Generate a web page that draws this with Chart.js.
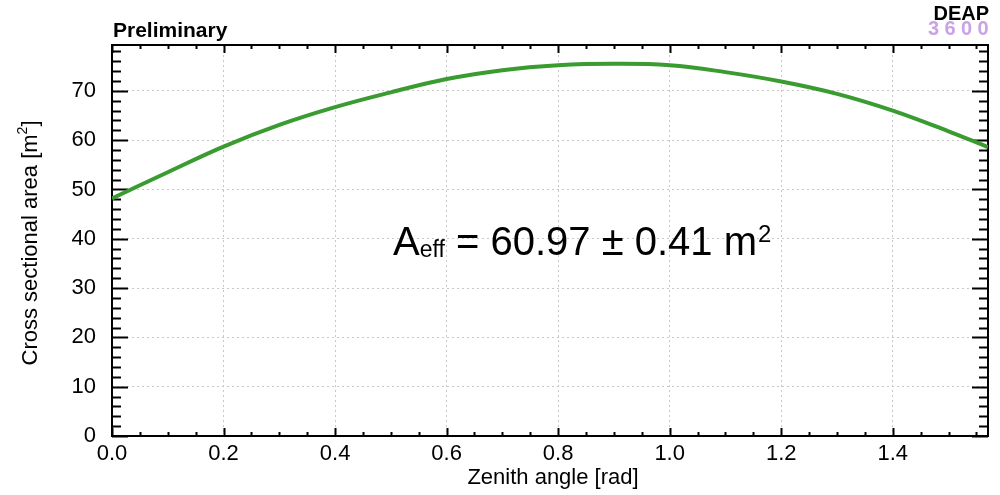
<!DOCTYPE html>
<html>
<head>
<meta charset="utf-8">
<script src="https://cdn.jsdelivr.net/npm/chart.js@4"></script>
<style>
  body { margin: 0; background: #fff; }
  canvas { display: block; }
</style>
</head>
<body>
<canvas id="myChart" width="1000" height="495"></canvas>
<script>
// zenith angle (rad) vs cross sectional area (m^2)
var angles = [0, 0.1, 0.2, 0.3, 0.4, 0.5, 0.6, 0.7, 0.8, 0.9, 1.0, 1.1, 1.2, 1.3, 1.4, 1.5, 1.5708];
var areas = [48.2, 53.5, 58.7, 63.1, 66.7, 69.7, 72.4, 74.2, 75.2, 75.5, 75.2, 73.8, 71.9, 69.4, 66.0, 61.8, 58.6];
var xTicks = [0, 0.2, 0.4, 0.6, 0.8, 1.0, 1.2, 1.4];
var yTicks = [0, 10, 20, 30, 40, 50, 60, 70];

var FONT = '"Liberation Sans", Arial, sans-serif';
var X_MAX = Math.PI / 2;
var Y_MAX = 79.3;

var points = angles.map(function (a, i) { return { x: a, y: areas[i] }; });

// ROOT style frame with inward ticks, titles and the labels on top
var frame = {
    id: 'frame',
    beforeDatasetsDraw: function (chart) {
        var ctx = chart.ctx, area = chart.chartArea;
        var xs = chart.scales.x, ys = chart.scales.y;
        ctx.save();
        ctx.strokeStyle = '#000';
        ctx.lineWidth = 2;
        ctx.strokeRect(area.left, area.top, area.right - area.left, area.bottom - area.top);
        ctx.beginPath();
        for (var v = 0; v <= Y_MAX; v += 2) {
            var py = Math.round(ys.getPixelForValue(v)) + 0.5;
            var len = (v % 10 === 0) ? 16 : 9;
            ctx.moveTo(area.left, py); ctx.lineTo(area.left + len, py);
            ctx.moveTo(area.right, py); ctx.lineTo(area.right - len, py);
        }
        for (var i = 0; i * 0.05 <= X_MAX; i++) {
            var px = Math.round(xs.getPixelForValue(i * 0.05)) + 0.5;
            var l2 = (i % 4 === 0) ? 8 : 4;
            ctx.moveTo(px, area.bottom); ctx.lineTo(px, area.bottom - l2);
            ctx.moveTo(px, area.top); ctx.lineTo(px, area.top + l2);
        }
        ctx.stroke();
        ctx.restore();
    },
    afterDraw: function (chart) {
        var ctx = chart.ctx;
        ctx.save();
        ctx.fillStyle = '#000';
        ctx.textBaseline = 'alphabetic';

        // Preliminary
        ctx.font = 'bold 21px ' + FONT;
        ctx.textAlign = 'left';
        ctx.fillText('Preliminary', 113, 37);

        // DEAP logo
        ctx.font = 'bold 20px ' + FONT;
        ctx.textAlign = 'right';
        ctx.fillText('DEAP', 989, 20);
        ctx.fillStyle = '#c9a3e2';
        ctx.textAlign = 'center';
        var digits = ['3', '6', '0', '0'];
        var centers = [933.5, 950, 966.5, 983];
        digits.forEach(function (d, i) { ctx.fillText(d, centers[i], 35); });

        // x title
        ctx.fillStyle = '#000';
        ctx.font = '22px ' + FONT;
        ctx.textAlign = 'center';
        ctx.fillText('Zenith angle [rad]', 553, 484);

        // y title, rotated
        ctx.save();
        ctx.translate(37, 243);
        ctx.rotate(-Math.PI / 2);
        ctx.textAlign = 'left';
        var big = '22px ' + FONT, small = '14px ' + FONT;
        ctx.font = big;
        var t1 = 'Cross sectional area [m';
        var w1 = ctx.measureText(t1).width, w3 = ctx.measureText(']').width;
        ctx.font = small;
        var w2 = ctx.measureText('2').width;
        var x0 = -(w1 + w2 + w3) / 2;
        ctx.font = big;
        ctx.fillText(t1, x0, 0);
        ctx.font = small;
        ctx.fillText('2', x0 + w1, -10);
        ctx.font = big;
        ctx.fillText(']', x0 + w1 + w2, 0);
        ctx.restore();

        // A_eff annotation
        var x = 393, base = 255;
        ctx.textAlign = 'left';
        ctx.font = '40px ' + FONT;
        ctx.fillText('A', x, base); x += ctx.measureText('A').width;
        ctx.font = '23px ' + FONT;
        ctx.fillText('eff', x, base + 2); x += ctx.measureText('eff').width;
        ctx.font = '40px ' + FONT;
        var mid = ' = 60.97 \u00b1 0.41 m';
        ctx.fillText(mid, x, base); x += ctx.measureText(mid).width;
        ctx.font = '24px ' + FONT;
        ctx.fillText('2', x + 1, base - 13);
        ctx.restore();
    }
};

var ctx = document.getElementById('myChart');
var myChart = new Chart(ctx, {
    type: 'line',
    data: {
        datasets: [{
            data: points,
            borderColor: 'rgb(58,155,48)',
            borderWidth: 4,
            pointRadius: 0,
            fill: false,
            tension: 0.4
        }]
    },
    options: {
        responsive: false,
        animation: false,
        layout: { padding: { left: 0, right: 12, top: 45, bottom: 0 } },
        plugins: {
            legend: { display: false },
            tooltip: { enabled: false }
        },
        scales: {
            x: {
                type: 'linear',
                min: 0,
                max: X_MAX,
                afterFit: function (s) { s.height = 59; },
                afterBuildTicks: function (s) { s.ticks = xTicks.map(function (v) { return { value: v }; }); },
                grid: { color: '#c8c8c8', lineWidth: 1, drawTicks: false },
                border: { display: false, dash: [2, 3] },
                ticks: {
                    padding: 5,
                    color: '#000',
                    font: { family: FONT, size: 22 },
                    callback: function (v) { return Number(v).toFixed(1); }
                }
            },
            y: {
                type: 'linear',
                min: 0,
                max: Y_MAX,
                afterFit: function (s) { s.width = 112; },
                afterBuildTicks: function (s) { s.ticks = yTicks.map(function (v) { return { value: v }; }); },
                grid: { color: '#c8c8c8', lineWidth: 1, drawTicks: false },
                border: { display: false, dash: [2, 3] },
                ticks: {
                    padding: 16,
                    color: '#000',
                    font: { family: FONT, size: 22 }
                }
            }
        }
    },
    plugins: [frame]
});
</script>
</body>
</html>
